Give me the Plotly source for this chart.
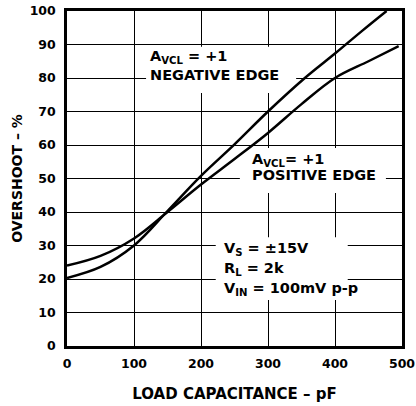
import plotly.graph_objects as go

cap_neg = [0, 50, 100, 150, 200, 250, 300, 355, 400, 440, 477]
neg_edge = [20.3, 23.6, 30, 40.3, 50.8, 60.2, 70, 80, 87.3, 94, 100]
cap_pos = [0, 50, 100, 150, 200, 250, 300, 350, 400, 450, 495]
pos_edge = [24, 26.9, 32.1, 40, 48.2, 55.8, 63.6, 72.2, 80, 85, 89.5]

x_ticks = [0, 100, 200, 300, 400, 500]
y_ticks = [0, 10, 20, 30, 40, 50, 60, 70, 80, 90, 100]

FONT = "DejaVu Sans, sans-serif"

fig = go.Figure()
fig.add_trace(go.Scatter(x=cap_neg, y=neg_edge, mode="lines",
                         line=dict(color="black", width=2.5, shape="spline", smoothing=1)))
fig.add_trace(go.Scatter(x=cap_pos, y=pos_edge, mode="lines",
                         line=dict(color="black", width=2.5, shape="spline", smoothing=1)))

masks = [(118, 342, 75.5, 89.3), (258, 476, 45.7, 59.1), (222, 419, 13.7, 32.5)]
shapes = [dict(type="rect", layer="between", x0=a, x1=b, y0=c, y1=d,
               fillcolor="white", line=dict(width=0)) for a, b, c, d in masks]

anns = [
    ("A<sub>VCL</sub> = +1", 121, 86.4),
    ("NEGATIVE EDGE", 121, 81.0),
    ("A<sub>VCL</sub>= +1", 273, 55.4),
    ("POSITIVE EDGE", 273, 51.0),
    ("V<sub>S</sub> = ±15V", 231, 29.1),
    ("R<sub>L</sub> = 2k", 231, 23.1),
    ("V<sub>IN</sub> = 100mV p-p", 231, 17.1),
]
annotations = [dict(text="<b>%s</b>" % t, x=x, y=y, xref="x", yref="y", xanchor="left",
                    yanchor="middle", showarrow=False,
                    font=dict(family=FONT, size=14.5, color="black")) for t, x, y in anns]

fig.update_layout(
    width=416, height=406,
    margin=dict(l=67, r=14, t=11, b=60),
    plot_bgcolor="white", paper_bgcolor="white",
    showlegend=False,
    shapes=shapes,
    annotations=annotations,
    font=dict(family=FONT, color="black"),
)
fig.update_xaxes(range=[0, 500], tickvals=x_ticks, ticktext=["<b>%d</b>" % v for v in x_ticks],
                 showgrid=True, gridcolor="black", gridwidth=1.3, automargin=False,
                 showline=True, linecolor="black", linewidth=2.5, mirror=True,
                 ticks="", zeroline=False, tickfont=dict(size=12.5, family=FONT),
                 ticklabelstandoff=4,
                 title=dict(text="<b>LOAD CAPACITANCE – pF</b>", font=dict(size=15, family=FONT), standoff=19))
fig.update_yaxes(range=[0, 100], tickvals=y_ticks, ticktext=["<b>%d</b>" % v for v in y_ticks],
                 showgrid=True, gridcolor="black", gridwidth=1.3, automargin=False,
                 showline=True, linecolor="black", linewidth=2.5, mirror=True,
                 ticks="", zeroline=False, tickfont=dict(size=12.5, family=FONT),
                 ticklabelstandoff=6,
                 title=dict(text="<b>OVERSHOOT – %</b>", font=dict(size=14, family=FONT), standoff=4))

fig.write_html("out.html", config={"displayModeBar": False},
               post_script="document.body.style.margin='0';")
